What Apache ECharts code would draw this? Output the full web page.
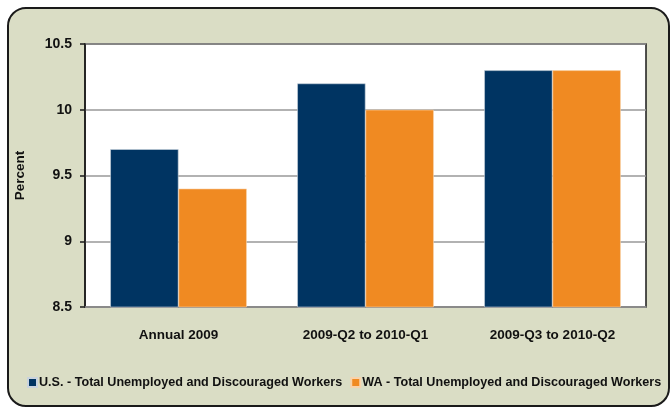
<!DOCTYPE html>
<html><head><meta charset="utf-8">
<script src="https://cdn.jsdelivr.net/npm/echarts@6/dist/echarts.min.js"></script>
<style>html,body{margin:0;padding:0;background:#fff}#c{width:670px;height:408px}</style>
</head><body><div id="c"></div>
<script>
const categories = ['Annual 2009', '2009-Q2 to 2010-Q1', '2009-Q3 to 2010-Q2'];
const usValues = [9.7, 10.2, 10.3];
const waValues = [9.4, 10.0, 10.3];
const seriesNames = ['U.S. - Total Unemployed and Discouraged Workers', 'WA - Total Unemployed and Discouraged Workers'];
const FONT = '"Liberation Sans", Arial, sans-serif';
const chart = echarts.init(document.getElementById('c'), null, {renderer: 'canvas'});
chart.setOption({
  animation: false,
  textStyle: {fontFamily: FONT},
  graphic: [{
    type: 'rect', z: -10, silent: true,
    shape: {x: 8, y: 8, width: 661, height: 398, r: 18},
    style: {fill: '#DADDC5', stroke: '#1a1a1a', lineWidth: 2}
  }],
  grid: {left: 85, right: 24, top: 44, bottom: 101, show: true, backgroundColor: '#ffffff', borderColor: '#1a1a1a', borderWidth: 1.5},
  legend: {
    bottom: 14, left: 22, width: 648, itemWidth: 9, itemHeight: 9, itemGap: 8,
    icon: 'rect',
    textStyle: {fontFamily: FONT, fontWeight: 'bold', fontSize: 12.6, color: '#111', padding: [0,0,0,-3]},
    data: seriesNames
  },
  xAxis: {
    type: 'category', data: categories,
    axisLine: {lineStyle: {color: '#8c8c8c', width: 1.5}},
    axisTick: {show: false},
    axisLabel: {fontFamily: FONT, fontWeight: 'bold', fontSize: 13.5, color: '#111', margin: 21}
  },
  yAxis: {
    type: 'value', min: 8.5, max: 10.5, interval: 0.5,
    name: 'Percent', nameLocation: 'middle', nameGap: 58,
    nameTextStyle: {fontFamily: FONT, fontWeight: 'bold', fontSize: 13.5, color: '#111'},
    axisLine: {show: true, lineStyle: {color: '#1a1a1a', width: 1.5}},
    axisTick: {show: true, inside: false, length: 5, lineStyle: {color: '#1a1a1a', width: 1.5}},
    axisLabel: {fontFamily: FONT, fontWeight: 'bold', fontSize: 14, color: '#111', margin: 13,
      formatter: v => String(v)},
    splitLine: {lineStyle: {color: '#999', width: 1.5}}
  },
  series: [
    {name: seriesNames[0], type: 'bar', data: usValues, barGap: '0%', barCategoryGap: '27%',
     itemStyle: {color: '#003462', borderColor: '#c9d3de', borderWidth: 0.6}},
    {name: seriesNames[1], type: 'bar', data: waValues,
     itemStyle: {color: '#F08A22', borderColor: '#f8d3ab', borderWidth: 0.6}}
  ]
});
</script></body></html>
